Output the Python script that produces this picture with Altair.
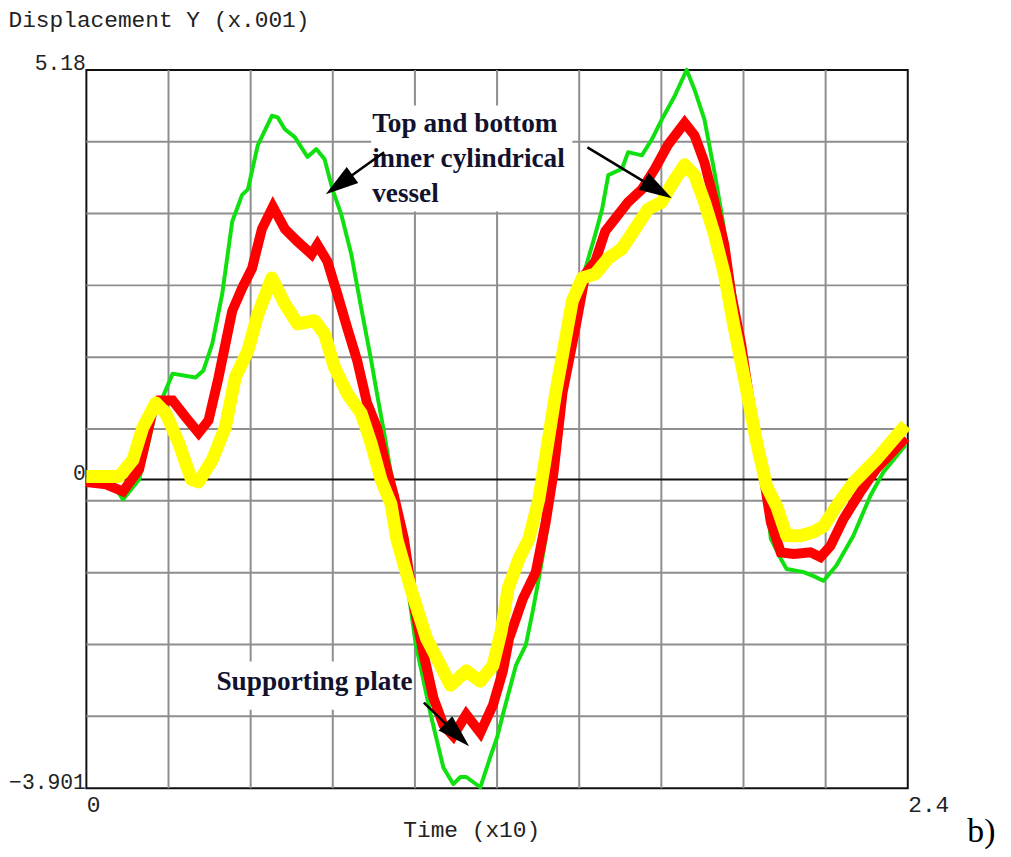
import math
import altair as alt
import pandas as pd

# ---------------- data ----------------
T_DOMAIN = [0.0, 2.4]
Y_DOMAIN = [-3.901, 5.18]

green_t = [0.000, 0.072, 0.107, 0.154, 0.183, 0.206, 0.223, 0.252, 0.319, 0.342,
           0.368, 0.397, 0.426, 0.455, 0.472, 0.501, 0.542, 0.559, 0.580, 0.609,
           0.646, 0.672, 0.696, 0.719, 0.745, 0.774, 0.803, 0.832, 0.849, 0.870,
           0.893, 0.907, 0.933, 0.962, 1.006, 1.043, 1.072, 1.093, 1.110, 1.151,
           1.180, 1.200, 1.217, 1.255, 1.284, 1.304, 1.322, 1.342, 1.357, 1.371,
           1.391, 1.429, 1.458, 1.487, 1.507, 1.525, 1.565, 1.583, 1.623, 1.652,
           1.681, 1.719, 1.754, 1.777, 1.806, 1.835, 1.855, 1.893, 1.922, 1.951,
           1.980, 2.000, 2.029, 2.046, 2.096, 2.125, 2.154, 2.191, 2.241, 2.290,
           2.328, 2.394]
green_y = [0.00, -0.03, -0.25, 0.00, 0.50, 0.94, 1.04, 1.34, 1.29, 1.38,
           1.72, 2.35, 3.26, 3.60, 3.67, 4.23, 4.60, 4.58, 4.43, 4.33,
           4.08, 4.18, 4.05, 3.67, 3.35, 2.85, 2.17, 1.51, 1.09, 0.59,
           0.00, -0.31, -1.17, -2.07, -2.97, -3.64, -3.85, -3.76, -3.76, -3.89,
           -3.51, -3.26, -2.97, -2.35, -2.09, -1.67, -1.25, -0.75, -0.25, 0.09,
           1.09, 1.92, 2.67, 3.10, 3.42, 3.85, 3.93, 4.14, 4.10, 4.30,
           4.55, 4.85, 5.18, 4.93, 4.55, 3.89, 3.39, 2.35, 1.51, 0.66,
           0.04, -0.75, -1.00, -1.13, -1.17, -1.22, -1.28, -1.09, -0.71, -0.21,
           0.09, 0.44]

red_t = [0.000, 0.058, 0.107, 0.154, 0.194, 0.212, 0.252, 0.290, 0.328, 0.357,
         0.386, 0.426, 0.455, 0.484, 0.513, 0.545, 0.580, 0.617, 0.658, 0.675,
         0.704, 0.733, 0.762, 0.791, 0.820, 0.849, 0.878, 0.899, 0.928, 0.957,
         0.986, 1.014, 1.043, 1.072, 1.110, 1.151, 1.188, 1.217, 1.235, 1.275,
         1.313, 1.342, 1.365, 1.391, 1.429, 1.458, 1.487, 1.516, 1.545, 1.583,
         1.623, 1.661, 1.699, 1.748, 1.777, 1.806, 1.835, 1.864, 1.884, 1.913,
         1.942, 1.971, 2.000, 2.029, 2.067, 2.116, 2.145, 2.174, 2.212, 2.261,
         2.307, 2.394]
red_y = [-0.03, -0.06, -0.15, 0.13, 0.88, 1.00, 1.00, 0.79, 0.59, 0.75,
         1.29, 2.13, 2.42, 2.67, 3.17, 3.45, 3.17, 3.01, 2.85, 2.97,
         2.76, 2.35, 1.92, 1.51, 0.97, 0.66, 0.13, -0.21, -0.75, -1.59,
         -2.22, -2.76, -3.10, -3.24, -2.97, -3.20, -2.85, -2.42, -2.01, -1.51,
         -1.17, -0.54, 0.09, 1.09, 1.92, 2.60, 2.76, 3.14, 3.30, 3.51,
         3.67, 3.93, 4.23, 4.51, 4.35, 4.01, 3.51, 2.97, 2.35, 1.72,
         0.88, 0.25, -0.54, -0.92, -0.94, -0.92, -0.98, -0.84, -0.50, -0.16,
         0.13, 0.53]

yellow_t = [0.000, 0.096, 0.136, 0.165, 0.203, 0.232, 0.270, 0.307, 0.328, 0.368,
            0.406, 0.435, 0.472, 0.501, 0.542, 0.580, 0.617, 0.667, 0.696, 0.725,
            0.762, 0.803, 0.832, 0.861, 0.890, 0.907, 0.948, 0.994, 1.035, 1.064,
            1.110, 1.151, 1.188, 1.212, 1.232, 1.264, 1.293, 1.322, 1.342, 1.371,
            1.420, 1.449, 1.487, 1.525, 1.565, 1.603, 1.641, 1.681, 1.710, 1.748,
            1.777, 1.806, 1.835, 1.864, 1.893, 1.922, 1.959, 1.988, 2.017, 2.046,
            2.087, 2.125, 2.154, 2.191, 2.241, 2.307, 2.394]
yellow_y = [0.04, 0.04, 0.25, 0.66, 0.97, 0.84, 0.46, 0.00, -0.03, 0.25,
            0.66, 1.29, 1.63, 2.09, 2.55, 2.22, 1.97, 2.01, 1.84, 1.42,
            1.09, 0.84, 0.46, 0.00, -0.31, -0.75, -1.38, -2.01, -2.35, -2.60,
            -2.42, -2.55, -2.35, -1.92, -1.38, -1.00, -0.75, -0.25, 0.29, 1.09,
            2.26, 2.55, 2.60, 2.80, 2.92, 3.17, 3.42, 3.51, 3.73, 3.98,
            3.85, 3.51, 3.10, 2.60, 1.92, 1.29, 0.46, -0.09, -0.34, -0.71,
            -0.71, -0.66, -0.59, -0.34, -0.04, 0.25, 0.69]

# annotation texts (position in data units)
note_text = ["Top and bottom", "inner cylindrical", "vessel", "Supporting plate"]
note_t = [0.835, 0.835, 0.835, 0.380]
note_y = [4.39, 3.95, 3.51, -2.66]

# white label boxes
box_t1 = [0.832, 0.377]
box_t2 = [1.420, 0.936]
box_y1 = [3.39, -2.91]
box_y2 = [4.73, -2.30]

# arrows: start -> tip
arrow_t1 = [0.870, 1.464, 0.986]
arrow_y1 = [4.14, 4.20, -2.82]
arrow_t2 = [0.719, 1.690, 1.101]
arrow_y2 = [3.67, 3.61, -3.30]

y_tick_values = [5.18, 0.0, -3.901]
x_tick_values = [0.0, 2.4]

# ---------------- layout ----------------
W, H = 828, 724
PX_T = W / (T_DOMAIN[1] - T_DOMAIN[0])
PX_Y = H / (Y_DOMAIN[1] - Y_DOMAIN[0])

grid_t = [T_DOMAIN[0] + k * (T_DOMAIN[1] - T_DOMAIN[0]) / 10 for k in range(1, 10)]
grid_y = [Y_DOMAIN[1] - k * (Y_DOMAIN[1] - Y_DOMAIN[0]) / 10 for k in range(1, 10)]

xs = alt.Scale(domain=T_DOMAIN, nice=False, zero=False)
ys = alt.Scale(domain=Y_DOMAIN, nice=False, zero=False)

MONO = "Liberation Mono"
SERIF = "Liberation Serif"
GRID = "#8e8e8e"
INK = "#222222"

x_axis = alt.Axis(
    values=x_tick_values, labelExpr="datum.value == 0 ? '0' : '2.4'",
    grid=False, domain=False, ticks=False,
    labelAlign="left", labelBaseline="alphabetic", labelPadding=24,
    labelFont=MONO, labelFontSize=23, labelColor=INK, labelFlush=False,
    labelOverlap=False,
    title="Time (x10)", titleFont=MONO, titleFontSize=23, titleFontWeight="normal",
    titleColor=INK, titleX=319, titleY=49, titleAlign="left",
    titleBaseline="alphabetic")

y_axis = alt.Axis(
    values=y_tick_values,
    labelExpr="datum.value > 5 ? '5.18' : (datum.value < -3 ? '\u22123.901' : '0')",
    grid=False, domain=False, ticks=False,
    labelAlign="right", labelBaseline="alphabetic", labelPadding=1,
    labelFont=MONO, labelFontSize=21.5, labelColor=INK, labelFlush=False,
    labelOverlap=False,
    title="Displacement Y (x.001)", titleFont=MONO, titleFontSize=23,
    titleFontWeight="normal", titleColor=INK, titleAngle=0,
    titleX=-79, titleY=-44, titleAlign="left", titleBaseline="alphabetic")


def X(field):
    return alt.X(field, scale=xs, axis=x_axis)


def Y(field):
    return alt.Y(field, scale=ys, axis=y_axis)


vgrid = alt.Chart(pd.DataFrame({"t": grid_t})).mark_rule(
    color=GRID, strokeWidth=2).encode(x=X("t:Q"))
hgrid = alt.Chart(pd.DataFrame({"y": grid_y})).mark_rule(
    color=GRID, strokeWidth=2).encode(y=Y("y:Q"))
zero_line = alt.Chart(pd.DataFrame({"y": [0.0]})).mark_rule(
    color="#111111", strokeWidth=2).encode(y=Y("y:Q"))

boxes = alt.Chart(pd.DataFrame({"t1": box_t1, "t2": box_t2, "y1": box_y1, "y2": box_y2})).mark_rect(
    color="white", opacity=1).encode(x=X("t1:Q"), x2="t2:Q", y=Y("y1:Q"), y2="y2:Q")


def series_df(ts, ys_):
    assert len(ts) == len(ys_)
    return pd.DataFrame({"t": ts, "y": ys_, "i": list(range(len(ts)))})


green = alt.Chart(series_df(green_t, green_y)).mark_line(
    color="#10e010", strokeWidth=4, strokeJoin="round").encode(
    x=X("t:Q"), y=Y("y:Q"), order="i:Q")
red = alt.Chart(series_df(red_t, red_y)).mark_line(
    color="#ff0000", strokeWidth=10, strokeJoin="miter").encode(
    x=X("t:Q"), y=Y("y:Q"), order="i:Q")
yellow = alt.Chart(series_df(yellow_t, yellow_y)).mark_line(
    color="#ffff00", strokeWidth=13, strokeJoin="round").encode(
    x=X("t:Q"), y=Y("y:Q"), order="i:Q")

notes = alt.Chart(pd.DataFrame({"txt": note_text, "t": note_t, "y": note_y})).mark_text(
    align="left", baseline="alphabetic", font=SERIF, fontSize=27.5, fontWeight="bold",
    color="#12122e").encode(x=X("t:Q"), y=Y("y:Q"), text="txt:N")

# arrows: shaft + head (custom triangular symbol rotated toward the tip)
HEAD_SIZE = 1100
HEAD = math.sqrt(HEAD_SIZE) / 4
rows = []
for t1, y1, t2, y2 in zip(arrow_t1, arrow_y1, arrow_t2, arrow_y2):
    dx = (t2 - t1) * PX_T
    dy = (y2 - y1) * PX_Y
    L = math.hypot(dx, dy)
    ux, uy = dx / L, dy / L
    ang = math.degrees(math.atan2(ux, uy)) % 360
    ct = t2 - HEAD * ux / PX_T
    cy = y2 - HEAD * uy / PX_Y
    rows.append({"t1": t1, "y1": y1, "tc": ct, "yc": cy, "a": ang})
arrows = pd.DataFrame(rows)

shafts = alt.Chart(arrows).mark_rule(color="black", strokeWidth=2.5).encode(
    x=X("t1:Q"), y=Y("y1:Q"), x2="tc:Q", y2="yc:Q")
heads = alt.Chart(arrows).mark_point(
    shape="M0,-1L-0.6,1L0.6,1Z", filled=True, color="black", opacity=1, size=HEAD_SIZE,
    strokeWidth=0).encode(
    x=X("tc:Q"), y=Y("yc:Q"), angle=alt.Angle("a:Q", scale=None))

panel_tag = alt.Chart(pd.DataFrame({"txt": ["b)"]})).mark_text(
    align="left", baseline="alphabetic", font=SERIF, fontSize=34, color="black").encode(
    x=alt.value(888), y=alt.value(778), text="txt:N")

chart = alt.layer(
    vgrid, hgrid, zero_line, boxes, green, red, yellow, notes, shafts, heads, panel_tag
).properties(
    width=W, height=H,
    autosize=alt.AutoSizeParams(type="none"),
    padding={"left": 79, "top": 59, "right": 96, "bottom": 66},
    background="white",
).configure_view(stroke="#111111", strokeWidth=2)

chart.save("out.html", embed_options={"renderer": "svg", "actions": False})
